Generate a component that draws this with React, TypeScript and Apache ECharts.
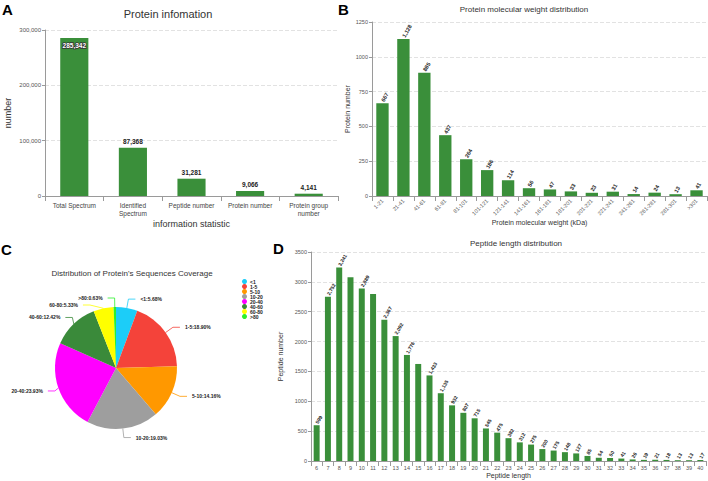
import React, { useEffect, useRef } from "react";
import * as echarts from "echarts";

const FONT = "'Liberation Sans', Arial, sans-serif";
const GREEN = "#3a8f3a";

const infoCategories = ["Total Spectrum", "Identified\nSpectrum", "Peptide number", "Protein number", "Protein group\nnumber"];
const infoValues = [285342, 87368, 31281, 9066, 4141];
const infoAxisMax = 300000;
const infoAxisStep = 100000;

const mwCategories = ["1-21", "21-41", "41-61", "61-81", "81-101", "101-121", "121-141", "141-161", "161-181", "181-201", "201-221", "221-241", "241-261", "261-281", "281-301", ">301"];
const mwValues = [667, 1128, 885, 437, 264, 186, 114, 56, 47, 33, 23, 31, 14, 24, 13, 41];
const mwAxisMax = 1250;
const mwAxisStep = 250;

const pepLengths = ["6", "7", "8", "9", "10", "11", "12", "13", "14", "15", "16", "17", "18", "19", "20", "21", "22", "23", "24", "25", "26", "27", "28", "29", "30", "31", "32", "33", "34", "35", "36", "37", "38", "39", "40"];
const pepValues = [599, 2752, 3241, 3078, 2889, 2795, 2367, 2092, 1776, 1625, 1433, 1135, 932, 807, 715, 545, 475, 382, 312, 275, 200, 175, 148, 127, 85, 54, 50, 41, 26, 19, 21, 18, 13, 13, 17];
const pepUnlabeled = ["9", "11", "15"];
const pepAxisMax = 3500;
const pepAxisStep = 500;

const coverageNames = ["<1", "1-5", "5-10", "10-20", "20-40", "40-60", "60-80", ">80"];
const coverageValues = [5.68, 18.9, 14.16, 19.03, 23.93, 12.42, 5.33, 0.63];
const coverageColors = ["#1ccdf8", "#f4433a", "#ff9800", "#9e9e9e", "#ff00ff", "#3a8a3a", "#ffff00", "#2cf02c"];

const fmt = (v: any) => Number(v).toLocaleString("en-US");
const plain = (v: any) => String(v);

function MainChart() {
  const ref = useRef<HTMLDivElement>(null);
  useEffect(() => {
    const chart = echarts.init(ref.current!, null, { renderer: "svg" });
    const axisLine = { show: true, lineStyle: { color: "#9a9a9a" } };
    const splitLine = { show: true, lineStyle: { color: "#e2e2e2", type: "dashed" as const } };
    const barLabelRot = (size: number) => ({
      show: true,
      position: "top" as const,
      rotate: 60,
      align: "left" as const,
      verticalAlign: "middle" as const,
      distance: 2,
      fontSize: size,
      fontWeight: "bold" as const,
      color: "#222",
      fontFamily: FONT,
      formatter: (p: any) => fmt(p.value),
    });
    const option: any = {
      animation: false,
      textStyle: { fontFamily: FONT },
      grid: [
        { left: 45, top: 30, width: 293, height: 166 },
        { left: 372, top: 22, width: 335, height: 174 },
        { left: 311, top: 252, width: 395, height: 209 },
      ],
      xAxis: [
        {
          type: "category", gridIndex: 0, data: infoCategories,
          axisLine, axisTick: { show: true, alignWithLabel: false, lineStyle: { color: "#9a9a9a" } },
          axisLabel: { interval: 0, fontSize: 6.5, color: "#444", lineHeight: 8, margin: 5 },
          name: "information statistic", nameLocation: "middle", nameGap: 23,
          nameTextStyle: { fontSize: 9, color: "#333" },
        },
        {
          type: "category", gridIndex: 1, data: mwCategories,
          axisLine, axisTick: { show: true, alignWithLabel: false, lineStyle: { color: "#9a9a9a" } },
          axisLabel: { interval: 0, rotate: 45, fontSize: 5.5, color: "#555", margin: 4 },
          name: "Protein molecular weight (kDa)", nameLocation: "middle", nameGap: 23,
          nameTextStyle: { fontSize: 7, color: "#333" },
        },
        {
          type: "category", gridIndex: 2, data: pepLengths,
          axisLine, axisTick: { show: true, alignWithLabel: false, lineStyle: { color: "#9a9a9a" } },
          axisLabel: { interval: 0, fontSize: 5.5, color: "#555", margin: 4 },
          name: "Peptide length", nameLocation: "middle", nameGap: 11,
          nameTextStyle: { fontSize: 7, color: "#333" },
        },
      ],
      yAxis: [
        {
          type: "value", gridIndex: 0, min: 0, max: infoAxisMax, interval: infoAxisStep,
          axisLine, axisTick: { show: true, length: 3, lineStyle: { color: "#9a9a9a" } }, splitLine,
          axisLabel: { fontSize: 6, color: "#555", formatter: fmt, margin: 4 },
          name: "number", nameLocation: "middle", nameGap: 33,
          nameTextStyle: { fontSize: 9, color: "#333" },
        },
        {
          type: "value", gridIndex: 1, min: 0, max: mwAxisMax, interval: mwAxisStep,
          axisLine, axisTick: { show: true, length: 3, lineStyle: { color: "#9a9a9a" } }, splitLine,
          axisLabel: { fontSize: 5.5, color: "#555", margin: 4, formatter: plain },
          name: "Protein number", nameLocation: "middle", nameGap: 21,
          nameTextStyle: { fontSize: 7, color: "#333" },
        },
        {
          type: "value", gridIndex: 2, min: 0, max: pepAxisMax, interval: pepAxisStep,
          axisLine, axisTick: { show: true, length: 3, lineStyle: { color: "#9a9a9a" } }, splitLine,
          axisLabel: { fontSize: 5.5, color: "#555", margin: 4, formatter: plain },
          name: "Peptide number", nameLocation: "middle", nameGap: 17,
          nameTextStyle: { fontSize: 7, color: "#333" },
        },
      ],
      series: [
        {
          type: "bar", xAxisIndex: 0, yAxisIndex: 0, barWidth: "48%",
          itemStyle: { color: GREEN },
          label: {
            show: true, position: "top", distance: 3, fontSize: 6.5, fontWeight: "bold", color: "#222",
            formatter: (p: any) => fmt(p.value),
          },
          data: infoValues.map((v, i) =>
            i === 0
              ? { value: v, label: { position: "insideTop", distance: 4, color: "#fff", textBorderColor: "#333", textBorderWidth: 1.5 } }
              : v
          ),
        },
        {
          type: "bar", xAxisIndex: 1, yAxisIndex: 1, barWidth: "59%",
          itemStyle: { color: GREEN },
          label: barLabelRot(5.5),
          data: mwValues,
        },
        {
          type: "bar", xAxisIndex: 2, yAxisIndex: 2, barWidth: "53%",
          itemStyle: { color: GREEN },
          label: barLabelRot(5),
          data: pepValues.map((v, i) =>
            pepUnlabeled.includes(pepLengths[i]) ? { value: v, label: { show: false } } : v
          ),
        },
      ],
      graphic: [
        { type: "text", left: 2, top: 2, style: { text: "A", font: `bold 15px ${FONT}`, fill: "#000" } },
        { type: "text", left: 338, top: 2, style: { text: "B", font: `bold 15px ${FONT}`, fill: "#000" } },
        { type: "text", left: 273, top: 241, style: { text: "D", font: `bold 15px ${FONT}`, fill: "#000" } },
        { type: "text", x: 168, y: 14, style: { text: "Protein infomation", font: `11px ${FONT}`, fill: "#333", align: "center", verticalAlign: "middle" } },
        { type: "text", x: 524, y: 9, style: { text: "Protein molecular weight distribution", font: `8px ${FONT}`, fill: "#333", align: "center", verticalAlign: "middle" } },
        { type: "text", x: 516, y: 243, style: { text: "Peptide length distribution", font: `8px ${FONT}`, fill: "#333", align: "center", verticalAlign: "middle" } },
      ],
    };
    chart.setOption(option);
    return () => chart.dispose();
  }, []);
  return <div ref={ref} style={{ position: "absolute", left: 0, top: 0, width: 708, height: 481 }} />;
}

function PieChart() {
  const ref = useRef<HTMLDivElement>(null);
  useEffect(() => {
    const chart = echarts.init(ref.current!, null, { renderer: "svg" });
    const option: any = {
      animation: false,
      textStyle: { fontFamily: FONT },
      color: coverageColors,
      legend: {
        orient: "vertical", left: 237, top: 34, itemWidth: 5, itemHeight: 5, itemGap: 0,
        icon: "circle",
        textStyle: { fontSize: 5, fontWeight: "bold", color: "#222", lineHeight: 5, padding: [0, 0, 0, -2] },
        data: coverageNames,
      },
      series: [
        {
          type: "pie", center: [116, 128], radius: 61, startAngle: 90, clockwise: true,
          label: {
            show: true, fontSize: 5, fontWeight: "bold", color: "#222",
            formatter: (p: any) => `${p.name}:${Number(p.value).toFixed(2)}%`,
          },
          labelLine: { show: true, length: 9, length2: 7, lineStyle: { width: 0.8 } },
          data: coverageNames.map((n, i) => ({ name: n, value: coverageValues[i] })),
        },
      ],
      graphic: [
        { type: "text", left: 1, top: 2, style: { text: "C", font: `bold 15px ${FONT}`, fill: "#000" } },
        { type: "text", x: 132, y: 33, style: { text: "Distribution of Protein's Sequences Coverage", font: `8px ${FONT}`, fill: "#333", align: "center", verticalAlign: "middle" } },
      ],
    };
    chart.setOption(option);
    return () => chart.dispose();
  }, []);
  return (
    <div style={{ position: "absolute", left: 0, top: 240, width: 272, height: 241, overflow: "hidden" }}>
      <div ref={ref} style={{ width: 272, height: 241 }} />
    </div>
  );
}

export default function App() {
  return (
    <div style={{ position: "fixed", left: 0, top: 0, width: 708, height: 481, background: "#fff", overflow: "hidden" }}>
      <MainChart />
      <PieChart />
    </div>
  );
}
